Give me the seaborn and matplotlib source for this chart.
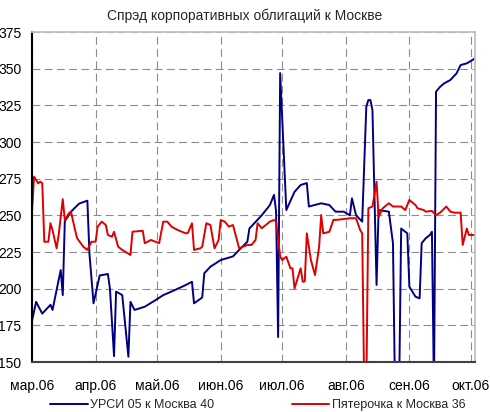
import pandas as pd
import seaborn as sns
import matplotlib.pyplot as plt
import matplotlib.dates as mdates
from matplotlib.ticker import FuncFormatter

# Дни от 1 марта 2006 и спред (б.п.)
start = pd.Timestamp("2006-03-01")

ursi_days = [0, 2, 5, 9, 10, 14, 15, 16, 19, 23, 27, 28, 30, 33, 37, 38, 40, 41,
             44, 47, 48, 50, 55, 60, 64, 68, 75, 78, 79, 83, 84, 87, 92, 98, 101,
             105, 106, 112, 116, 118, 119, 120, 121, 124, 128, 131, 134, 135, 141,
             145, 148, 152, 155, 156, 158, 161, 163, 164, 165, 166, 168, 169, 174,
             176, 177, 179, 180, 183, 184, 187, 189, 190, 192, 194, 195, 196, 197,
             199, 201, 204, 207, 209, 212, 216]
ursi_vals = [178, 191, 183, 189, 185.5, 212.7, 195.6, 246, 252.5, 258, 260, 224, 190,
             209, 210, 200, 154, 198, 195.6, 153.6, 191, 185.5, 187.7, 192, 195.6,
             198, 202.5, 204.7, 190, 194, 210.5, 215, 219.5, 222, 226.4, 232, 241,
             250, 257, 264, 253, 167, 347, 253.6, 266, 270.7, 272, 256, 258.2, 257,
             252.5, 252.5, 250, 261.6, 250, 245.7, 324, 328.6, 328.6, 321.8, 202.5,
             253.6, 252.5, 231, 130, 130, 241, 237.7, 201.3, 194.5, 193.4, 231,
             234.4, 236.6, 238.8, 130, 334.3, 337.7, 340, 342.3, 346.8, 352.5,
             353.6, 357]

pyat_days = [0, 1, 3, 4, 5, 6, 8, 9, 10, 12, 13, 15, 16, 18, 19, 21, 22, 25, 27, 29,
             31, 32, 34, 36, 37, 39, 40, 42, 44, 48, 49, 54, 55, 58, 62, 64, 66, 68,
             71, 75, 76, 78, 79, 82, 83, 85, 87, 89, 91, 92, 94, 96, 98, 101, 105,
             107, 109, 110, 112, 114, 116, 118, 119, 121, 122, 124, 126, 127, 128,
             129, 131, 132, 133, 134, 136, 138, 140, 141, 142, 145, 147, 148, 155,
             158, 160, 161, 162, 163, 164, 166, 168, 169, 171, 174, 176, 180, 182,
             184, 187, 188, 191, 192, 195, 197, 199, 202, 204, 206, 209, 210, 212,
             213, 216]
pyat_vals = [252.5, 276.4, 271.8, 273, 271.8, 232, 232, 244.6, 240, 227.5, 236.6, 261,
             246.8, 251.4, 252.5, 240, 234.4, 228.6, 226.4, 232, 232, 242.3, 245.7,
             243.4, 236.6, 235.4, 238.8, 228.6, 226.4, 223, 238.8, 239.5, 231, 233.2,
             231, 245.7, 245.7, 242.3, 240, 237.7, 238, 244.6, 226.4, 227.5, 228.6,
             244.6, 243.4, 227.5, 233.2, 246.8, 245.7, 242.3, 243.4, 227.5, 229.8,
             229.8, 233.2, 244.6, 241.2, 243.4, 245.7, 246.8, 246, 221.8, 219.5,
             221.8, 213.9, 213.9, 200.2, 204.7, 213.9, 204.7, 205, 237.7, 219.5,
             209.3, 228.6, 250.2, 237.7, 238.8, 247, 246.8, 248, 248, 240, 237.7,
             130, 130, 254.8, 256, 272.9, 249, 254.8, 258.2, 256, 256, 253.6, 260.5,
             257, 254.8, 253.6, 252.5, 253, 250.2, 251.8, 256, 252.5, 251.8, 251.8,
             229.8, 241, 236.6, 236.6]

month_names = ["янв", "фев", "мар", "апр", "май", "июн",
               "июл", "авг", "сен", "окт", "ноя", "дек"]

ursi = pd.DataFrame({"date": start + pd.to_timedelta(ursi_days, unit="D"),
                     "spread": ursi_vals})
pyat = pd.DataFrame({"date": start + pd.to_timedelta(pyat_days, unit="D"),
                     "spread": pyat_vals})

sns.set_style("white")
plt.rcParams["font.family"] = ["Liberation Sans", "DejaVu Sans"]

fig = plt.figure(figsize=(4.9, 4.12), dpi=100)
ax = fig.add_axes([32 / 490, 1 - 362 / 412, 443 / 490, 330 / 412])

sns.lineplot(data=ursi, x="date", y="spread", ax=ax, color="#000080",
             linewidth=1.4, label="УРСИ 05 к Москва 40", legend=False)
sns.lineplot(data=pyat, x="date", y="spread", ax=ax, color="#dd0000",
             linewidth=1.4, label="Пятерочка к Москва 36", legend=False)

ax.set_ylim(150, 375)
ax.set_yticks(range(150, 376, 25))
ax.set_xlim(start, start + pd.Timedelta(days=216))
ax.xaxis.set_major_locator(mdates.MonthLocator())
ax.xaxis.set_major_formatter(FuncFormatter(
    lambda v, pos: month_names[mdates.num2date(v).month - 1] + ".06"))

ax.grid(True, color="#8c8c8c", linestyle=(0, (7, 4)), linewidth=0.8)
ax.tick_params(axis="both", length=0, labelsize=10, colors="black")
ax.tick_params(axis="y", pad=7.5)
ax.tick_params(axis="x", pad=12)
ax.set_xlabel("")
ax.set_ylabel("")

ax.spines["left"].set_color("black")
ax.spines["left"].set_linewidth(1.5)
ax.spines["bottom"].set_color("#404040")
ax.spines["bottom"].set_linewidth(1.5)
for side in ["top", "right"]:
    ax.spines[side].set_color("#c0c0c0")
    ax.spines[side].set_linewidth(1.3)

fig.text(0.5, 1 - 16 / 412, "Спрэд корпоративных облигаций к Москве",
         ha="center", va="center", fontsize=10)

handles, labels = ax.get_legend_handles_labels()
fig.legend(handles, labels, loc="center left", bbox_to_anchor=(50 / 490, 7 / 412),
           ncol=2, frameon=False, fontsize=9, handlelength=3.0, handletextpad=0.2,
           columnspacing=6.2, borderpad=0, borderaxespad=0)

fig.savefig("out.png", dpi=100)
